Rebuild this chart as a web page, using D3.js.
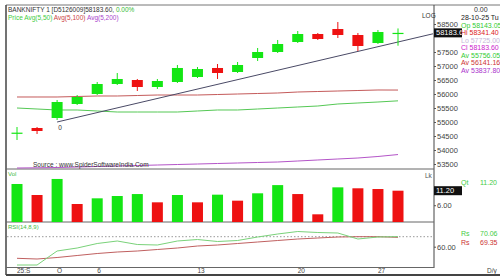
<!DOCTYPE html>
<html>
<head>
<meta charset="utf-8">
<script src="https://cdn.jsdelivr.net/npm/d3@7/dist/d3.min.js"></script>
<style>
	body { margin: 0; background: #fff; }
	svg text { font-family: 'Liberation Sans', Arial, sans-serif; }
</style>
</head>
<body>
<div class="chart"></div>
<script>
// daily candles, 29-Sep-25 .. 28-Oct-25
const opens = [54600, 54786, 55143, 55643, 56000, 56357, 56500, 56250, 56429, 56607, 56929, 56786, 57286, 57500, 57857, 58143, 58321, 58107, 57821, 58143.05]
const highs = [54821, 54821, 55786, 55964, 56429, 56750, 56536, 56536, 57036, 56964, 57071, 57143, 57643, 57929, 58250, 58179, 58571, 58179, 58286, 58341.40]
const lows = [54357, 54571, 55071, 55607, 55964, 56321, 56107, 56179, 56393, 56571, 56536, 56750, 57179, 57464, 57821, 57929, 58000, 57536, 57786, 57725.00]
const closes = [54620, 54679, 55714, 55893, 56357, 56536, 56250, 56464, 56929, 56893, 56750, 57036, 57500, 57786, 58143, 57964, 58107, 57714, 58214, 58183.60]
const volumes = [13.6, 9.66, 15.4, 6.44, 8.47, 9.3, 10.0, 7.04, 9.66, 7.04, 9.78, 7.63, 10.27, 13.2, 10.0, 2.75, 12.4, 12.06, 11.8, 11.2]

const avg50 = [55500, 55464, 55429, 55429, 55393, 55357, 55357, 55357, 55357, 55393, 55429, 55429, 55464, 55500, 55536, 55571, 55643, 55679, 55714, 55756.05]
const avg100 = [55893, 55893, 55893, 55911, 55929, 55929, 55946, 55964, 55964, 55964, 55982, 56000, 56018, 56036, 56071, 56089, 56107, 56125, 56143, 56141.16]
const avg200 = [53357, 53364, 53375, 53393, 53411, 53429, 53446, 53464, 53482, 53500, 53518, 53536, 53554, 53571, 53607, 53643, 53679, 53714, 53768, 53837.80]

const rsi = [41.7, 41.7, 55.7, 58.7, 63.2, 65.7, 62.2, 61.7, 65.7, 67.2, 65.2, 66.2, 69.7, 72.7, 75.2, 74.2, 73.7, 67.7, 69.7, 70.06]
const rsiSignal = [48.4, 47.7, 49.2, 51.2, 53.2, 54.7, 55.7, 57.2, 58.7, 60.7, 61.7, 63.2, 64.7, 66.2, 67.7, 68.7, 69.7, 70.0, 70.0, 69.35]

const trendPoints = [{ i: 2, p: 55000 }, { i: 19, p: 57857 }]

const xTickIdx = [0, 2, 4, 9, 14, 18]
const xTickLabels = ['25:S', 'O', '6', '13', '20', '27']
const priceTicks = [58500, 57500, 57000, 56500, 56000, 55500, 55000, 54500, 54000, 53500]
const volTicks = [6]
const rsiTicks = [60]
const infoLines = [
	{ t: 'Op 58143.05', c: '#33cc33' },
	{ t: 'Hi 58341.40', c: '#dd2222' },
	{ t: 'Lo 57725.00', c: '#c8b8d8' },
	{ t: 'Cl 58183.60', c: '#cc22cc' },
	{ t: 'Av 55756.05', c: '#33cc33' },
	{ t: 'Av 56141.16', c: '#cc3333' },
	{ t: 'Av 53837.80', c: '#aa33cc' }
]

const GREEN = '#14e614'
const RED = '#ee1111'
const LEFT = 6, AXIS_X = 434

const svg = d3.select('.chart').append('svg')
	.attr('width', 500).attr('height', 280)

const x = d3.scaleLinear().domain([0, 19]).range([17, 398])
const y = d3.scaleLinear().domain([53500, 58500]).range([164, 24])
const yVol = d3.scaleLinear().domain([0, 11.2]).range([222, 190.7])
const yRsi = d3.scaleLinear().domain([60, 70]).range([246.7, 236.7])

const idx = d3.range(opens.length)
const bw = 11

// frame
const frame = svg.append('g').attr('stroke', '#444').attr('fill', 'none')
frame.append('line').attr('x1', LEFT).attr('x2', 500).attr('y1', 5).attr('y2', 5).attr('stroke', '#777')
frame.append('line').attr('x1', LEFT).attr('x2', LEFT).attr('y1', 5).attr('y2', 275).attr('stroke-width', 1.5)
frame.append('line').attr('x1', LEFT).attr('x2', 500).attr('y1', 275).attr('y2', 275).attr('stroke-width', 2)
frame.append('line').attr('x1', AXIS_X).attr('x2', AXIS_X).attr('y1', 5).attr('y2', 268)
;[169, 222, 267.5].forEach(v => {
	frame.append('line').attr('x1', LEFT).attr('x2', AXIS_X).attr('y1', v).attr('y2', v).attr('stroke', '#666')
})

// moving averages
const maLine = arr => d3.line().x((d, i) => x(i)).y(d => y(d))(arr)
svg.append('path').attr('d', maLine(avg100)).attr('fill', 'none').attr('stroke', '#c45a5a').attr('stroke-width', 1)
svg.append('path').attr('d', maLine(avg50)).attr('fill', 'none').attr('stroke', '#55c855').attr('stroke-width', 1)
svg.append('path').attr('d', maLine(avg200)).attr('fill', 'none').attr('stroke', '#b455c8').attr('stroke-width', 1)

// trend line, extended to the panel edge
const tSlope = (trendPoints[1].p - trendPoints[0].p) / (trendPoints[1].i - trendPoints[0].i)
const tEnd = x.invert(AXIS_X - 1)
svg.append('line')
	.attr('x1', x(trendPoints[0].i)).attr('y1', y(trendPoints[0].p))
	.attr('x2', x(tEnd)).attr('y2', y(trendPoints[0].p + tSlope * (tEnd - trendPoints[0].i)))
	.attr('stroke', '#4a4a66').attr('stroke-width', 1)
svg.append('text').attr('x', x(trendPoints[0].i) + 3).attr('y', y(trendPoints[0].p) + 8)
	.attr('font-size', 6.5).attr('fill', '#333').attr('text-anchor', 'middle').text('0')

// candles
const candles = svg.append('g').selectAll('g').data(idx).join('g')
	.attr('fill', i => closes[i] >= opens[i] ? GREEN : RED)
	.attr('stroke', i => closes[i] >= opens[i] ? GREEN : RED)
candles.append('line')
	.attr('x1', i => x(i)).attr('x2', i => x(i))
	.attr('y1', i => y(highs[i])).attr('y2', i => y(lows[i]))
candles.append('rect')
	.attr('stroke', 'none')
	.attr('x', i => x(i) - bw / 2)
	.attr('width', bw)
	.attr('y', i => y(Math.max(opens[i], closes[i])))
	.attr('height', i => Math.max(1.2, Math.abs(y(opens[i]) - y(closes[i]))))

// volume
svg.append('g').selectAll('rect').data(idx).join('rect')
	.attr('x', i => x(i) - bw / 2)
	.attr('width', bw)
	.attr('y', i => yVol(volumes[i]))
	.attr('height', i => yVol(0) - yVol(volumes[i]))
	.attr('fill', i => i === 0 || volumes[i] >= volumes[i - 1] ? GREEN : RED)

// RSI
svg.append('line').attr('x1', LEFT + 1).attr('x2', AXIS_X - 2).attr('y1', yRsi(70)).attr('y2', yRsi(70))
	.attr('stroke', '#999').attr('stroke-dasharray', '1.5,2')
const rsiLine = arr => d3.line().x((d, i) => x(i)).y(d => yRsi(d))(arr)
svg.append('path').attr('d', rsiLine(rsiSignal)).attr('fill', 'none').attr('stroke', '#c06060').attr('stroke-width', 1)
svg.append('path').attr('d', rsiLine(rsi)).attr('fill', 'none').attr('stroke', '#7ad27a').attr('stroke-width', 1)

// right axes
const axisStyle = g => {
	g.select('.domain').remove()
	g.selectAll('line').attr('stroke', '#555')
	g.selectAll('text').attr('font-size', 7.5).attr('fill', '#444').attr('font-family', 'Liberation Sans, Arial, sans-serif')
}
svg.append('g').attr('transform', `translate(${AXIS_X},0)`)
	.call(d3.axisRight(y).tickValues(priceTicks).tickSize(2).tickPadding(1).tickFormat(d3.format('d')))
	.call(axisStyle)
svg.append('g').attr('transform', `translate(${AXIS_X},0)`)
	.call(d3.axisRight(yVol).tickValues(volTicks).tickSize(2).tickPadding(1).tickFormat(d3.format('.2f')))
	.call(axisStyle)
svg.append('g').attr('transform', `translate(${AXIS_X},0)`)
	.call(d3.axisRight(yRsi).tickValues(rsiTicks).tickSize(2).tickPadding(1).tickFormat(d3.format('.2f')))
	.call(axisStyle)

// last value boxes
const valueBox = (yy, label) => {
	svg.append('rect').attr('x', AXIS_X).attr('y', yy - 4.5).attr('width', 28).attr('height', 9).attr('fill', '#111')
	svg.append('text').attr('x', AXIS_X + 2).attr('y', yy + 2.5).attr('font-size', 7.5).attr('fill', '#fff').text(label)
}
valueBox(y(closes[19]), '58183.6')
valueBox(yVol(volumes[19]), '11.20')

// x labels
svg.append('g').selectAll('text').data(xTickIdx).join('text')
	.attr('x', i => x(i))
	.attr('y', 273)
	.attr('font-size', 6.5).attr('fill', '#444')
	.text((d, k) => xTickLabels[k])

// header & labels
const hdr = svg.append('text').attr('x', 8).attr('y', 12).attr('font-size', 6.5).attr('fill', '#333')
hdr.append('tspan').text('BANKNIFTY 1 [D5126009]58183.60, ')
hdr.append('tspan').attr('fill', '#33bb33').text('0.00%')
const leg = svg.append('text').attr('x', 8).attr('y', 20).attr('font-size', 6.5)
leg.append('tspan').attr('fill', '#44cc44').text('Price Avg(5,50)  ')
leg.append('tspan').attr('fill', '#cc4444').text('Avg(5,100)  ')
leg.append('tspan').attr('fill', '#aa44cc').text('Avg(5,200)')

svg.append('text').attr('x', 33).attr('y', 167).attr('font-size', 6.5).attr('fill', '#333')
	.text('Source : www.SpiderSoftwareIndia.Com')
svg.append('text').attr('x', 8).attr('y', 176).attr('font-size', 6).attr('fill', '#44bb44').text('Vol')
svg.append('text').attr('x', 8).attr('y', 229).attr('font-size', 6).attr('fill', '#44bb44').text('RSI(14,8,9)')
svg.append('text').attr('x', 422).attr('y', 18).attr('font-size', 6.5).attr('fill', '#333').text('LOG')
svg.append('text').attr('x', 425).attr('y', 178).attr('font-size', 6.5).attr('fill', '#555').text('Lk')

// info panel
svg.append('text').attr('x', 474).attr('y', 12).attr('font-size', 7).attr('fill', '#333').text('0.00')
svg.append('text').attr('x', 461).attr('y', 20).attr('font-size', 7).attr('fill', '#222').text('28-10-25 Tu')
svg.append('g').selectAll('text').data(infoLines).join('text')
	.attr('x', 461)
	.attr('y', (d, k) => 27.5 + k * 7.5)
	.attr('font-size', 7)
	.attr('fill', d => d.c)
	.text(d => d.t)
const side = [
	{ t: 'Qt', v: '11.20', c: '#44cc44', yy: 185 },
	{ t: 'Rs', v: '70.06', c: '#44cc44', yy: 236 },
	{ t: 'Rs', v: '69.35', c: '#cc3333', yy: 244.5 }
]
side.forEach(s => {
	svg.append('text').attr('x', 461).attr('y', s.yy).attr('font-size', 7).attr('fill', s.c).text(s.t)
	svg.append('text').attr('x', 480).attr('y', s.yy).attr('font-size', 7).attr('fill', s.c).text(s.v)
})
svg.append('text').attr('x', 487).attr('y', 273).attr('font-size', 6.5).attr('fill', '#444').text('D/y')
</script>
</body>
</html>
